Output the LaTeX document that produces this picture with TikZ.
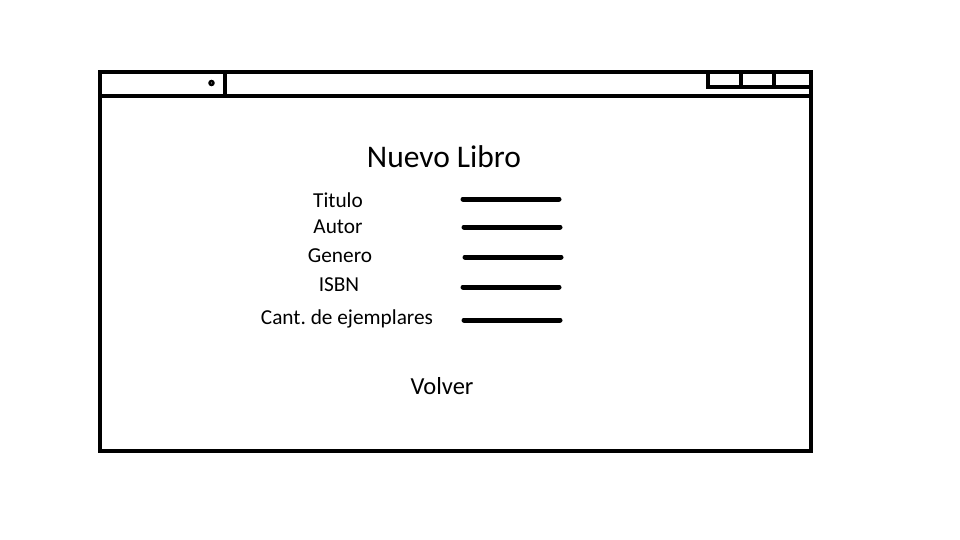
\documentclass[tikz,border=0pt]{standalone}
\usepackage{fontspec}
\setmainfont{Carlito}
\frenchspacing
\begin{document}
\begin{tikzpicture}[x=1pt,y=-1pt,
  frame/.style={line width=4.2pt},
  field/.style={line width=5pt,line cap=round},
  lbl/.style={inner sep=0pt,font=\fontsize{21.3}{24}\selectfont},
  ttl/.style={inner sep=0pt,font=\fontsize{31.5}{34}\selectfont},
  btn/.style={inner sep=0pt,font=\fontsize{24.5}{27}\selectfont}]
\useasboundingbox (0,0) rectangle (960,540);
% window frame
\draw[frame] (100,72) rectangle (811,451);
\draw[frame] (100,96) -- (811,96);
\draw[frame] (225,72) -- (225,96);
\fill (211.5,83) circle (3.3pt);
\fill[white] (211.5,83) circle (0.5pt);
% window buttons
\draw[frame] (708,72) -- (708,87) -- (811,87);
\draw[frame] (741,72) -- (741,87);
\draw[frame] (774,72) -- (774,87);
% title
\node[ttl] (title) at (444,157) {Nuevo Libro};
% labels
\node[lbl] (titulo) at (338,200) {Titulo};
\node[lbl] (autor) at (338,227) {Autor};
\node[lbl] (genero) at (340,256) {Genero};
\node[lbl] (isbn) at (339,285) {ISBN};
\node[lbl] (cant) at (347,319) {Cant. de ejemplares};
% fields
\coordinate (f1a) at (463,199); \coordinate (f1b) at (559,199);
\coordinate (f2a) at (464,227); \coordinate (f2b) at (560,227);
\coordinate (f3a) at (465,257); \coordinate (f3b) at (561,257);
\coordinate (f4a) at (463,287); \coordinate (f4b) at (559,287);
\coordinate (f5a) at (464,320); \coordinate (f5b) at (560,320);
\draw[field] (f1a) -- (f1b);
\draw[field] (f2a) -- (f2b);
\draw[field] (f3a) -- (f3b);
\draw[field] (f4a) -- (f4b);
\draw[field] (f5a) -- (f5b);
% button
\node[btn] (volver) at (442,386) {Volver};
\end{tikzpicture}
\end{document}
